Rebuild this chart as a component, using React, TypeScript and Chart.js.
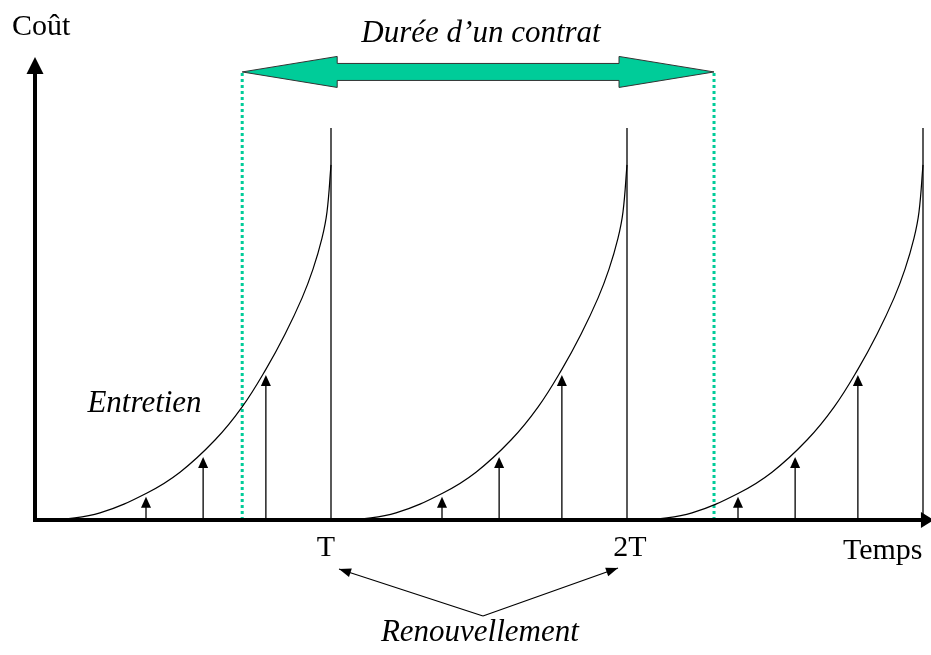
import React, { useEffect, useRef } from "react";
import { Chart, registerables } from "chart.js";

Chart.register(...registerables);

// ---- Data (time in units of T, cost in arbitrary units) ----
const cycleOffsets = [0, 1, 2];
const curveTime = [0.0845, 0.2196, 0.3784, 0.4899, 0.6081, 0.6993, 0.7804, 0.8446, 0.902, 0.9392, 0.9696, 0.9865, 1.0];
const curveCost = [0, 1.8, 6.9, 12.2, 20.4, 28.8, 38.5, 47.4, 56.6, 64.0, 71.9, 78.6, 90.6];
const maintenanceTimes = [0.375, 0.568, 0.78];
const maintenanceCosts = [5.9, 16.1, 37.0];
const renewalTimes = [1, 2, 3];
const renewalCost = 100;
const contractStart = 0.7;
const contractEnd = 2.294;
const tickValues = [1, 2];
const tickLabels = ["T", "2T"];
const yAxisTitle = "Coût";
const xAxisTitle = "Temps";
const contractLabel = "Durée d’un contrat";
const maintenanceLabel = "Entretien";
const renewalLabel = "Renouvellement";

// ---- Layout (data coordinates) ----
const X_MIN = -35 / 296;
const X_MAX = 896 / 296;
const Y_MIN = -135 / 3.92;
const Y_MAX = 520 / 3.92;
const Y_AXIS_TOP = 118.1;
const X_AXIS_END = 3.037;
const CONTRACT_ARROW_COST = 114.3;
const GREEN = "#00CC99";

const overlay = {
  id: "overlay",
  afterDatasetsDraw(chart: any) {
    const { ctx, scales } = chart;
    const x = scales.x;
    const y = scales.y;
    const px = (v: number) => x.getPixelForValue(v);
    const py = (v: number) => y.getPixelForValue(v);

    const head = (tx: number, ty: number, dx: number, dy: number, len: number, half: number) => {
      const n = Math.hypot(dx, dy);
      const ux = dx / n, uy = dy / n;
      const bx = tx - ux * len, by = ty - uy * len;
      ctx.beginPath();
      ctx.moveTo(tx, ty);
      ctx.lineTo(bx - uy * half, by + ux * half);
      ctx.lineTo(bx + uy * half, by - ux * half);
      ctx.closePath();
      ctx.fill();
    };

    ctx.save();
    ctx.fillStyle = "#000";
    ctx.strokeStyle = "#000";

    // Axes
    const ox = px(0), oy = py(0);
    ctx.lineWidth = 4;
    ctx.beginPath();
    ctx.moveTo(ox, oy + 2);
    ctx.lineTo(ox, py(Y_AXIS_TOP) + 12);
    ctx.stroke();
    head(ox, py(Y_AXIS_TOP), 0, -1, 17, 8.5);
    ctx.beginPath();
    ctx.moveTo(ox - 2, oy);
    ctx.lineTo(px(X_AXIS_END) - 10, oy);
    ctx.stroke();
    head(px(X_AXIS_END), oy, 1, 0, 13, 8);

    // Maintenance arrowheads
    cycleOffsets.forEach((k) => {
      maintenanceTimes.forEach((t, i) => {
        head(px(t + k), py(maintenanceCosts[i]), 0, -1, 11, 5);
      });
    });

    // Contract double arrow
    const ax1 = px(contractStart), ax2 = px(contractEnd), ay = py(CONTRACT_ARROW_COST);
    const hl = 95, hh = 15.5, sh = 8.5;
    ctx.beginPath();
    ctx.moveTo(ax1, ay);
    ctx.lineTo(ax1 + hl, ay - hh);
    ctx.lineTo(ax1 + hl, ay - sh);
    ctx.lineTo(ax2 - hl, ay - sh);
    ctx.lineTo(ax2 - hl, ay - hh);
    ctx.lineTo(ax2, ay);
    ctx.lineTo(ax2 - hl, ay + hh);
    ctx.lineTo(ax2 - hl, ay + sh);
    ctx.lineTo(ax1 + hl, ay + sh);
    ctx.lineTo(ax1 + hl, ay + hh);
    ctx.closePath();
    ctx.fillStyle = GREEN;
    ctx.fill();
    ctx.lineWidth = 1;
    ctx.strokeStyle = "#333";
    ctx.stroke();

    // Renewal pointer arrows
    ctx.fillStyle = "#000";
    ctx.strokeStyle = "#000";
    ctx.lineWidth = 1.2;
    const apx = px(1.5135), apy = py(-24.5);
    const tips = [
      [px(1.027), py(-12.5)],
      [px(1.9696), py(-12.24)],
    ];
    tips.forEach(([tx, ty]) => {
      ctx.beginPath();
      ctx.moveTo(apx, apy);
      ctx.lineTo(tx, ty);
      ctx.stroke();
      head(tx, ty, tx - apx, ty - apy, 12, 4.5);
    });

    // Texts
    ctx.fillStyle = "#000";
    ctx.textBaseline = "alphabetic";
    ctx.font = "30px 'Liberation Serif'";
    ctx.textAlign = "left";
    ctx.fillText(yAxisTitle, px(-0.0777), py(123.7));
    ctx.fillText(xAxisTitle, px(2.7297), py(-9.95));
    ctx.textAlign = "center";
    const tickShift = [-5, 3];
    tickValues.forEach((v, i) => {
      ctx.fillText(tickLabels[i], px(v) + tickShift[i], py(-9.2));
    });
    ctx.font = "italic 31px 'Liberation Serif'";
    ctx.fillText(contractLabel, px(1.5068), py(121.9));
    ctx.fillText(maintenanceLabel, px(0.37), py(27.55));
    ctx.fillText(renewalLabel, px(1.503), py(-30.87));
    ctx.restore();
  },
};

export default function App() {
  const ref = useRef<HTMLCanvasElement | null>(null);

  useEffect(() => {
    document.body.style.margin = "0";
    if (!ref.current) return;

    const datasets: any[] = [];
    const lineBase = {
      borderColor: "#000",
      pointRadius: 0,
      fill: false,
      showLine: true,
    };

    cycleOffsets.forEach((k) => {
      datasets.push({
        ...lineBase,
        data: curveTime.map((t, i) => ({ x: t + k, y: curveCost[i] })),
        borderWidth: 1.2,
        tension: 0.4,
      });
      maintenanceTimes.forEach((t, i) => {
        datasets.push({
          ...lineBase,
          data: [
            { x: t + k, y: 0 },
            { x: t + k, y: maintenanceCosts[i] - 1 },
          ],
          borderWidth: 1.3,
        });
      });
    });

    renewalTimes.forEach((t) => {
      datasets.push({
        ...lineBase,
        data: [
          { x: t, y: 0 },
          { x: t, y: renewalCost },
        ],
        borderWidth: 1.3,
      });
    });

    [contractStart, contractEnd].forEach((t) => {
      datasets.push({
        ...lineBase,
        borderColor: GREEN,
        borderWidth: 3,
        borderDash: [3, 3],
        borderCapStyle: "butt",
        data: [
          { x: t, y: 0 },
          { x: t, y: CONTRACT_ARROW_COST },
        ],
      });
    });

    const chart = new Chart(ref.current, {
      type: "line",
      data: { datasets },
      options: {
        animation: false,
        responsive: false,
        devicePixelRatio: 1,
        layout: { padding: 0 },
        plugins: {
          legend: { display: false },
          tooltip: { enabled: false },
          title: { display: false },
        },
        scales: {
          x: { type: "linear", min: X_MIN, max: X_MAX, display: false },
          y: { type: "linear", min: Y_MIN, max: Y_MAX, display: false },
        },
      },
      plugins: [overlay],
    } as any);

    return () => chart.destroy();
  }, []);

  return (
    <div style={{ width: 931, height: 655, background: "#fff" }}>
      <canvas ref={ref} width={931} height={655} />
    </div>
  );
}
